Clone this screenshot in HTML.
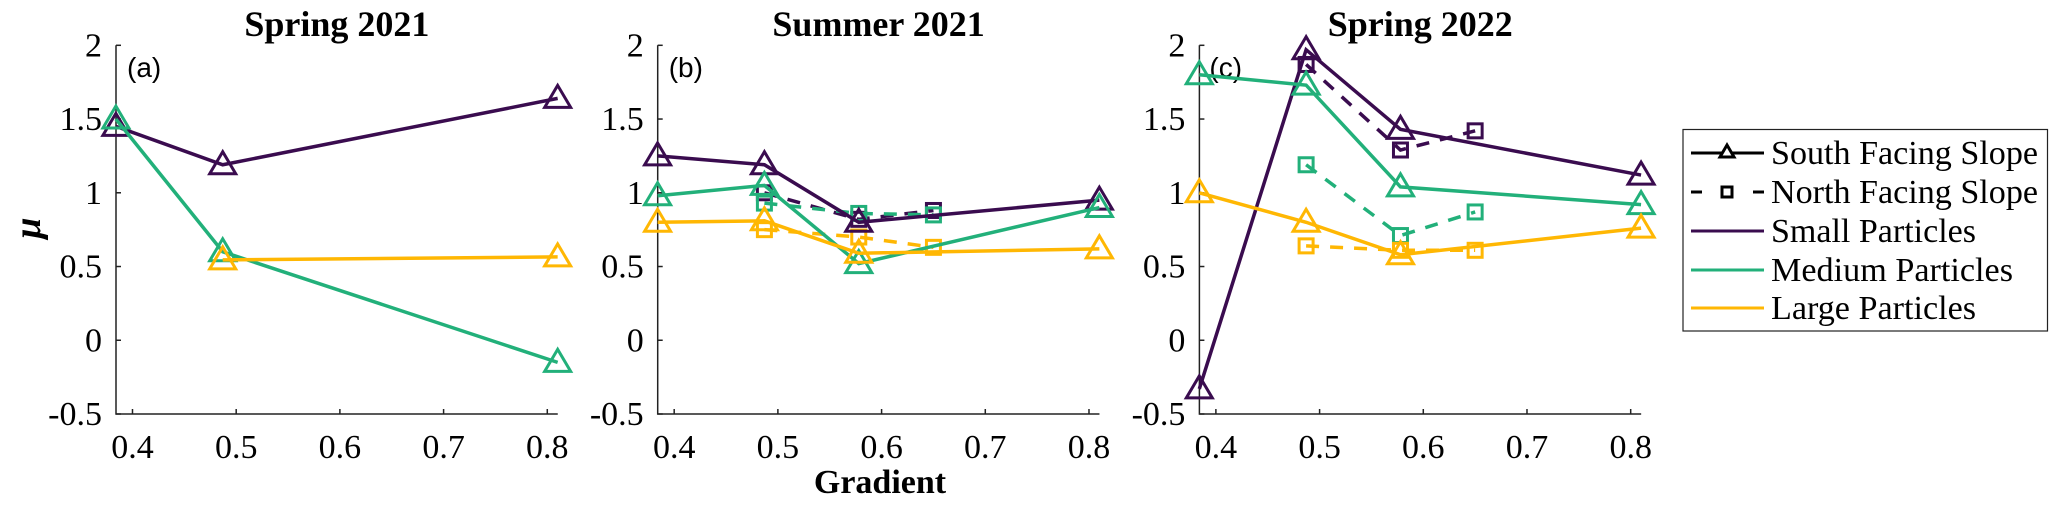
<!DOCTYPE html>
<html><head><meta charset="utf-8"><style>
html,body{margin:0;padding:0;background:#fff;}
svg{display:block;}
</style></head><body>
<svg id="chart" width="2067" height="515" viewBox="0 0 2067 515" xmlns="http://www.w3.org/2000/svg" font-family="'Liberation Serif', serif">
<g id="panels"></g>
<text x="880" y="493" font-size="34" font-weight="bold" text-anchor="middle">Gradient</text>
<text transform="translate(40,228) rotate(-90)" font-size="38" font-weight="bold" font-style="italic" text-anchor="middle">μ</text>
<g>
<rect x="1683" y="129.5" width="364.5" height="201.5" fill="#fff" stroke="#222" stroke-width="1.2"/>
<g>
<line x1="1691" y1="153" x2="1764" y2="153" stroke="#000" stroke-width="3"/>
<polygon points="1727,145 1720,157 1734,157" fill="#fff" stroke="#000" stroke-width="3"/>
<text x="1771" y="164" font-size="34" textLength="267" lengthAdjust="spacingAndGlyphs">South Facing Slope</text></g>
<g>
<line x1="1691" y1="192" x2="1764" y2="192" stroke="#000" stroke-width="3" stroke-dasharray="11,20"/>
<rect x="1722" y="187" width="10" height="10" fill="#fff" stroke="#000" stroke-width="3"/>
<text x="1771" y="203" font-size="34" textLength="267" lengthAdjust="spacingAndGlyphs">North Facing Slope</text></g>
<g>
<line x1="1691" y1="231" x2="1764" y2="231" stroke="#3a0c4f" stroke-width="3"/>
<text x="1771" y="242" font-size="34" textLength="205" lengthAdjust="spacingAndGlyphs">Small Particles</text></g>
<g>
<line x1="1691" y1="270" x2="1764" y2="270" stroke="#22b07a" stroke-width="3"/>
<text x="1771" y="281" font-size="34" textLength="242" lengthAdjust="spacingAndGlyphs">Medium Particles</text></g>
<g>
<line x1="1691" y1="308" x2="1764" y2="308" stroke="#ffb703" stroke-width="3"/>
<text x="1771" y="319" font-size="34" textLength="205" lengthAdjust="spacingAndGlyphs">Large Particles</text></g>
</g>
</svg>
<script>
const panelTitles = ["Spring 2021", "Summer 2021", "Spring 2022"];
const panelTags = ["(a)", "(b)", "(c)"];
const xTicks = [0.4, 0.5, 0.6, 0.7, 0.8];
const xTickLabels = ["0.4", "0.5", "0.6", "0.7", "0.8"];
const yTicks = [-0.5, 0, 0.5, 1, 1.5, 2];
const yTickLabels = ["-0.5", "0", "0.5", "1", "1.5", "2"];
const sizeClasses = ["small", "medium", "large"];
const colors = ["#3a0c4f", "#22b07a", "#ffb703"];
// Panel (a)
const aSouthX = [0.384, 0.487, 0.810];
const aSouthSmall = [1.45, 1.19, 1.64];
const aSouthMediumX = [0.384, 0.487, 0.810];
const aSouthMedium = [1.50, 0.60, -0.15];
const aSouthLargeX = [0.487, 0.810];
const aSouthLarge = [0.545, 0.565];
// Panel (b)
const bSouthX = [0.384, 0.487, 0.578, 0.810];
const bSouthSmall = [1.25, 1.19, 0.80, 0.95];
const bSouthMedium = [0.98, 1.05, 0.52, 0.90];
const bSouthLarge = [0.80, 0.81, 0.59, 0.62];
const bNorthX = [0.487, 0.578, 0.650];
const bNorthSmall = [1.00, 0.82, 0.88];
const bNorthMedium = [0.93, 0.86, 0.85];
const bNorthLarge = [0.75, 0.70, 0.63];
// Panel (c)
const cSouthX = [0.384, 0.487, 0.578, 0.810];
const cSouthSmall = [-0.33, 1.97, 1.43, 1.12];
const cSouthMedium = [1.80, 1.73, 1.04, 0.92];
const cSouthLarge = [1.00, 0.80, 0.58, 0.76];
const cNorthX = [0.487, 0.578, 0.650];
const cNorthSmall = [1.87, 1.29, 1.42];
const cNorthMedium = [1.19, 0.71, 0.87];
const cNorthLarge = [0.64, 0.61, 0.61];

const panelsData = [
  {south: [[aSouthX, aSouthSmall], [aSouthMediumX, aSouthMedium], [aSouthLargeX, aSouthLarge]], north: []},
  {south: [[bSouthX, bSouthSmall], [bSouthX, bSouthMedium], [bSouthX, bSouthLarge]],
   north: [[bNorthX, bNorthSmall], [bNorthX, bNorthMedium], [bNorthX, bNorthLarge]]},
  {south: [[cSouthX, cSouthSmall], [cSouthX, cSouthMedium], [cSouthX, cSouthLarge]],
   north: [[cNorthX, cNorthSmall], [cNorthX, cNorthMedium], [cNorthX, cNorthLarge]]}
];

const NS = "http://www.w3.org/2000/svg";
const root = document.getElementById("panels");
function mk(tag, attrs, parent) {
  const e = document.createElementNS(NS, tag);
  for (const k in attrs) e.setAttribute(k, attrs[k]);
  parent.appendChild(e);
  return e;
}
const X_MIN = 0.3841, X_MAX = 0.8101, Y_MIN = -0.5, Y_MAX = 2;
const PX_PER_01 = 103.7;
const panelLeft = [116, 657.7, 1199.4];
const yTop = 45.3, yBot = 414;

panelsData.forEach((pd, pi) => {
  const left = panelLeft[pi];
  const right = left + (X_MAX - X_MIN) * PX_PER_01 * 10;
  const sx = v => left + (v - X_MIN) / (X_MAX - X_MIN) * (right - left);
  const sy = v => yBot - (v - Y_MIN) / (Y_MAX - Y_MIN) * (yBot - yTop);
  const g = mk("g", {}, root);
  
  

  const ax = mk("path", {d: `M${left},${yTop} L${left},${yBot} L${right},${yBot}`, fill: "none", stroke: "#222", "stroke-width": 1.5}, g);
  
  
  yTicks.forEach((t, i) => {
    const y = sy(t);
    mk("line", {x1: left, y1: y, x2: left + 5, y2: y, stroke: "#222", "stroke-width": 1.5}, g);
    const tx = mk("text", {x: left - 14, y: y + 11, "font-size": 34, "text-anchor": "end"}, g);
    tx.textContent = yTickLabels[i];
    
    
  });
  xTicks.forEach((t, i) => {
    const x = sx(t);
    mk("line", {x1: x, y1: yBot, x2: x, y2: yBot - 5, stroke: "#222", "stroke-width": 1.5}, g);
    const tx = mk("text", {x: x, y: 458, "font-size": 34, "text-anchor": "middle"}, g);
    tx.textContent = xTickLabels[i];
    
    
  });
  const title = mk("text", {x: (left + right) / 2, y: 36, "font-size": 36, "font-weight": "bold", "text-anchor": "middle"}, g);
  title.textContent = panelTitles[pi];
  
  
  const tag = mk("text", {x: left + (pi === 2 ? 10 : 11), y: 77, "font-size": 28, "font-family": "'Liberation Sans', sans-serif"}, g);
  tag.textContent = panelTags[pi];
  
  

  pd.north.forEach((s, si) => {
    const [xs, ys] = s;
    const pts = xs.map((x, k) => `${sx(x)},${sy(ys[k])}`).join(" ");
    const pl = mk("polyline", {points: pts, fill: "none", stroke: colors[si], "stroke-width": 3.5, "stroke-dasharray": "13,11"}, g);
    
    
    xs.forEach((x, k) => {
      const r = mk("rect", {x: sx(x) - 7, y: sy(ys[k]) - 7, width: 14, height: 14, fill: "none", stroke: colors[si], "stroke-width": 3}, g);
      
      
    });
  });
  pd.south.forEach((s, si) => {
    const [xs, ys] = s;
    const pts = xs.map((x, k) => `${sx(x)},${sy(ys[k])}`).join(" ");
    const pl = mk("polyline", {points: pts, fill: "none", stroke: colors[si], "stroke-width": 3.5}, g);
    
    
    xs.forEach((x, k) => {
      const cx = sx(x), cy = sy(ys[k]);
      const p = mk("polygon", {points: `${cx},${cy - 13} ${cx - 13},${cy + 9} ${cx + 13},${cy + 9}`, fill: "none", stroke: colors[si], "stroke-width": 3}, g);
      
      
    });
  });
});
</script>
</body></html>
